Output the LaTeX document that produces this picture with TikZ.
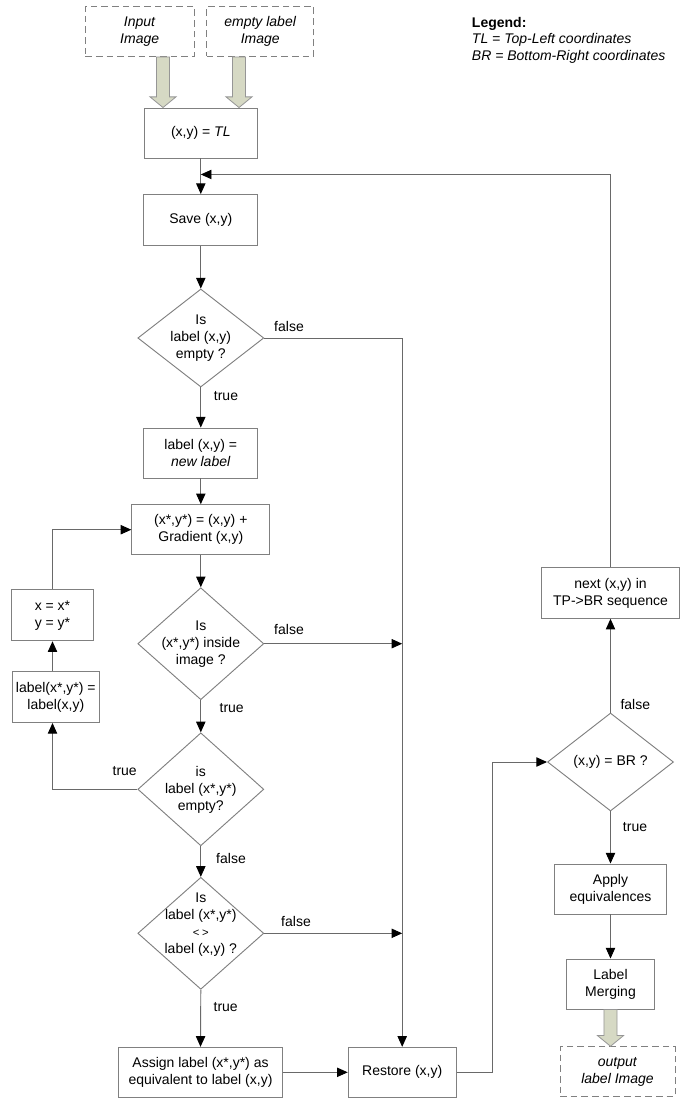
\documentclass[tikz,border=0pt]{standalone}
\usepackage{fontspec}
\setmainfont{Liberation Sans}
\usetikzlibrary{shapes.geometric,arrows.meta,calc}
\definecolor{boxgrey}{RGB}{128,128,128}
\definecolor{linegrey}{RGB}{105,105,105}
\definecolor{fatfill}{RGB}{214,217,196}
\definecolor{fatdraw}{RGB}{150,150,150}
\newcommand\fatarrow[2]{%
  \path[fill=fatfill,draw=fatdraw,line width=0.6pt] let \p1=#1, \p2=#2 in
    (\x1-4.9pt,\y1) -- (\x1-4.9pt,\y2+8pt) -- (\x1-9.75pt,\y2+8pt) -- (\x1,\y2)
    -- (\x1+9.75pt,\y2+8pt) -- (\x1+4.9pt,\y2+8pt) -- (\x1+4.9pt,\y1) -- cycle;}
\begin{document}
\begin{tikzpicture}[x=0.75pt,y=-0.75pt,
  font=\fontsize{10.5}{12.8}\selectfont,
  wh/.style 2 args={minimum width=#1*0.75pt,minimum height=#2*0.75pt},
  box/.style={draw=boxgrey,line width=0.7pt,inner sep=1pt,align=center,fill=white},
  dbox/.style={box,dash pattern=on 5pt off 3pt},
  dia/.style={draw=boxgrey,line width=0.7pt,diamond,inner sep=0pt},
  dtext/.style={align=center,inner sep=0pt},
  arr/.style={draw=linegrey,line width=0.7pt,-{Triangle[length=8pt,width=7pt,black]}},
  lbl/.style={inner sep=0pt}
]
\useasboundingbox (0,0) rectangle (685,1102);

% input boxes
\node[dbox,wh={109}{50}] (in) at (139.7,31.5) {\textit{Input}\\\textit{Image}};
\node[dbox,wh={107}{50}] (emp) at (260.3,31.5) {\textit{empty label}\\\textit{Image}};

% legend
\node[lbl,align=left,anchor=north west,font=\fontsize{10.5}{12.4}\selectfont] (legend) at (471.7,17)
  {\textbf{Legend:}\\\textit{TL = Top-Left coordinates}\\\textit{BR = Bottom-Right coordinates}};

% main column
\node[box,wh={113}{50}] (tl) at (200.8,133) {(x,y) = \textit{TL}};
\node[box,wh={114}{51}] (save) at (200.8,220) {Save (x,y)};
\node[dia,wh={126}{98}] (d1) at (200.8,338) {};
\node[dtext] (d1t) at (d1.center) {Is\\label (x,y)\\empty ?};
\node[box,wh={114}{50}] (newl) at (200.8,453) {label (x,y) =\\\textit{new label}};
\node[box,wh={138}{50}] (grad) at (200.8,529.7) {(x*,y*) = (x,y) +\\Gradient (x,y)};
\node[dia,wh={126}{112}] (d2) at (200.8,643.7) {};
\node[dtext] (d2t) at (d2.center) {Is\\(x*,y*) inside\\image ?};
\node[dia,wh={126}{113}] (d3) at (200.8,789.3) {};
\node[dtext] (d3t) at (200.8,790) {is\\label (x*,y*)\\empty?};
\node[dia,wh={126}{112}] (d4) at (200.8,933.3) {};
\node[dtext] (d4t) at (200.8,925) {Is\\label (x*,y*)\\{\fontsize{8.5}{9}\selectfont <\hspace{2pt}>}\\label (x,y) ?};
\node[box,wh={164}{50}] (asg) at (200.5,1072.3) {Assign label (x*,y*) as\\equivalent to label (x,y)};
\node[box,wh={108}{50}] (rs) at (402.2,1072.3) {Restore (x,y)};

% left loop
\node[box,wh={82}{51}] (xeq) at (52.5,615.3) {x = x*\\y = y*};
\node[box,wh={87}{51}] (lab2) at (55.8,697) {label(x*,y*) =\\label(x,y)};

% right column
\node[dia,wh={126}{98}] (d5) at (610.5,762) {};
\node[dtext] (d5t) at (d5.center) {(x,y) = BR ?};
\node[box,wh={137.6}{50.6}] (next) at (610.5,593) {next (x,y) in\\TP->BR sequence};
\node[box,wh={112.7}{50}] (apply) at (610.5,889) {Apply\\equivalences};
\node[box,wh={88.3}{50}] (merge) at (610.5,984) {Label\\Merging};
\node[dbox,wh={115}{50}] (out) at (617.5,1071.7) {\textit{output}\\\textit{label Image}};

% fat arrows
\coordinate (fx1) at (163,0);
\coordinate (fx2) at (239,0);
\fatarrow{(in.south -| fx1)}{(tl.north -| fx1)}
\fatarrow{(emp.south -| fx2)}{(tl.north -| fx2)}
\fatarrow{(merge.south)}{(out.north -| merge.south)}

% connectors
\coordinate (j0) at ($(tl.south)+(0,16)$);
\draw[arr] (tl.south) -- (save.north);
\draw[arr] (next.north) |- (j0);
\draw[arr] (save.south) -- (d1.north);
\draw[arr] (d1.south) -- (newl.north);
\draw[arr] (newl.south) -- (grad.north);
\draw[arr] (grad.south) -- (d2.north);
\draw[arr] (d2.south) -- (d3.north);
\draw[arr] (d3.south) -- (d4.north);
\draw[arr] (d4.south) -- (asg.north);
\draw[arr] (asg.east) -- (rs.west);
\draw[arr] (d1.east) -- (d1.east -| rs.north) -- (rs.north);
\coordinate (j2) at (d2.east -| rs.north);
\coordinate (j4) at (d4.east -| rs.north);
\draw[arr] (d2.east) -- (j2);
\draw[arr] (d4.east) -- (j4);
\draw[arr] (d3.west) -- (d3.west -| xeq.south) -- (xeq.south |- lab2.south);
\draw[arr] (xeq.south |- lab2.north) -- (xeq.south);
\draw[arr] (xeq.north) |- (grad.west);
\draw[arr] (rs.east) -- ++(35.5,0) |- (d5.west);
\draw[arr] (d5.north) -- (next.south);
\draw[arr] (d5.south) -- (apply.north);
\draw[arr] (apply.south) -- (merge.north);

% branch labels
\node[lbl] (f1) at (289,326) {false};
\node[lbl] (t1) at (226,396) {true};
\node[lbl] (f2) at (289,629) {false};
\node[lbl] (t2) at (231.7,708) {true};
\node[lbl] (t3) at (124.7,771) {true};
\node[lbl] (f3) at (231,858) {false};
\node[lbl] (f4) at (296,921.7) {false};
\node[lbl] (t4) at (225.7,1006.7) {true};
\node[lbl] (f5) at (635.3,704.3) {false};
\node[lbl] (t5) at (635,827) {true};
\end{tikzpicture}
\end{document}
